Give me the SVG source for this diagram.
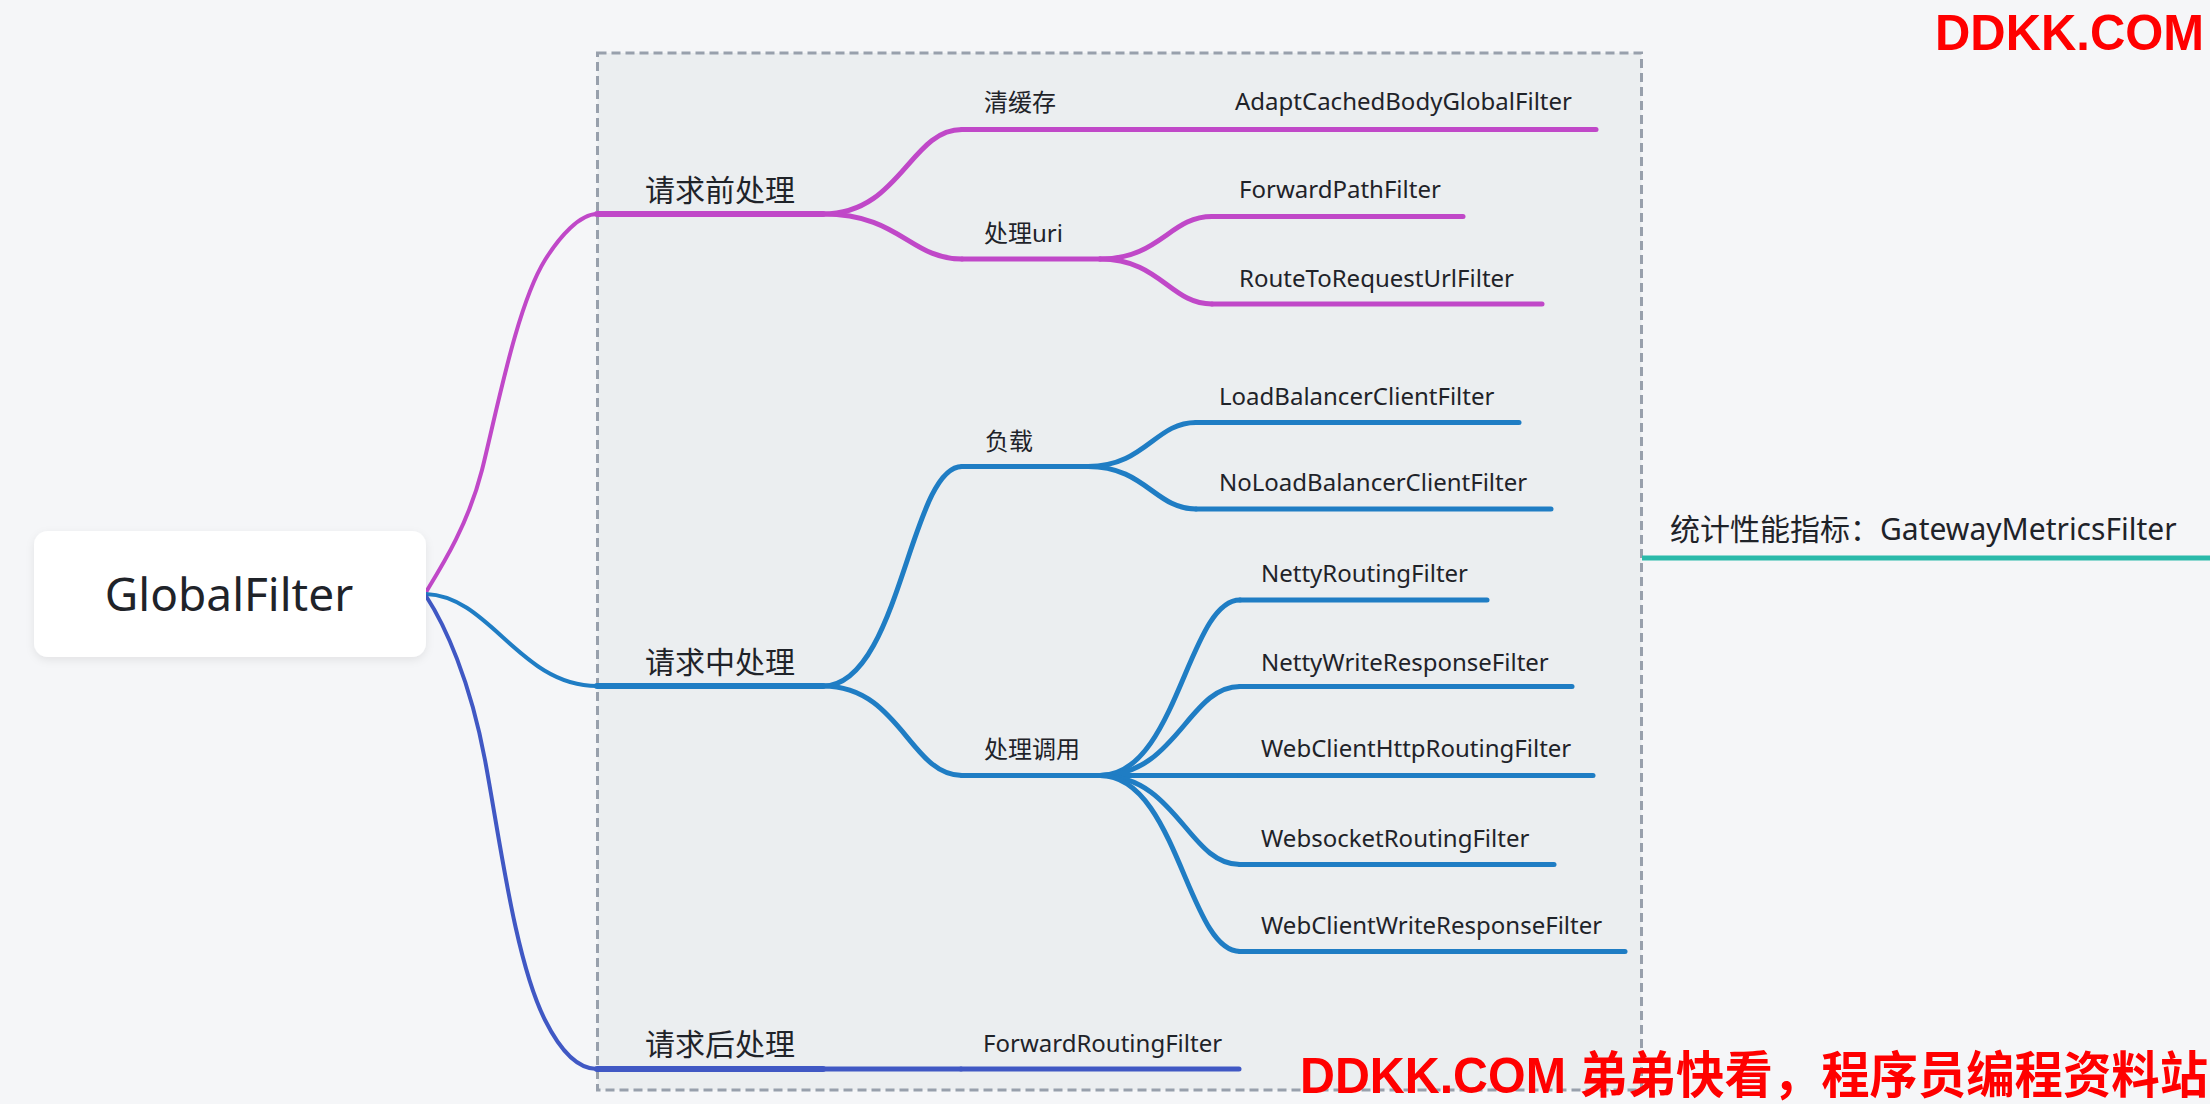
<svg xmlns="http://www.w3.org/2000/svg" width="2210" height="1104" viewBox="0 0 2210 1104">
<style>
.t{font-family:'Noto Sans','Noto Sans CJK SC',sans-serif;fill:#1f2329}
.l1{font-size:30px}
.l2{font-size:24px}
.l3{font-size:24px}
.c{fill:none;stroke-linecap:round}
.p{stroke:#c048c8}
.b{stroke:#1f7dc4}
.i{stroke:#4058c4}
.g{stroke:#2bbaaa}
.w0{stroke-width:4}
.w1{stroke-width:6}
.w2{stroke-width:5}
.wm{font-family:'Liberation Sans','Noto Sans CJK SC',sans-serif;font-weight:bold;fill:#ff0000}
</style>
<defs>
<filter id="sh" x="-10%" y="-20%" width="120%" height="150%">
<feDropShadow dx="0" dy="3" stdDeviation="4" flood-color="#000" flood-opacity="0.08"/>
</filter>
</defs>
<rect x="0" y="0" width="2210" height="1104" fill="#f5f6f8"/>
<g id="boundary">
<rect x="597.5" y="53" width="1044" height="1037" fill="#ebeef0" stroke="#98a0ac" stroke-width="3" stroke-dasharray="9 5"/>
</g>
<g id="connectors">
<path class="c p w0" d="M426,592 C442,566 468,525 482,470 C497,410 517,305 545,260 C560,236 580,214 597,214"/>
<path class="c b w0" d="M426,594 C490,596 520,686 597,686"/>
<path class="c i w0" d="M426,596 C445,625 470,680 485,760 C500,840 515,960 545,1020 C562.5,1055 580,1069 597,1069"/>
<path class="c p w2" d="M823,214 C900,214 910,129.5 962,129.5"/>
<path class="c p w2" d="M823,214 C900,214 910,259 962,259"/>
<path class="c p w2" d="M1100,129.5 H1213"/>
<path class="c p w2" d="M1100,259 C1160,259 1170,216.5 1212,216.5"/>
<path class="c p w2" d="M1100,259 C1160,259 1170,304 1212,304"/>
<path class="c b w2" d="M823,686 C900,686 910,466.5 962,466.5"/>
<path class="c b w2" d="M823,686 C900,686 910,775.5 962,775.5"/>
<path class="c b w2" d="M1088,466.5 C1145,466.5 1155,422.5 1196,422.5"/>
<path class="c b w2" d="M1088,466.5 C1145,466.5 1155,509 1196,509"/>
<path class="c b w2" d="M1100,775.5 C1177,775.5 1188,600 1240,600"/>
<path class="c b w2" d="M1100,775.5 C1177,775.5 1188,686.5 1240,686.5"/>
<path class="c b w2" d="M1100,775.5 H1240"/>
<path class="c b w2" d="M1100,775.5 C1177,775.5 1188,864.5 1240,864.5"/>
<path class="c b w2" d="M1100,775.5 C1177,775.5 1188,951.5 1240,951.5"/>
<path class="c i w2" d="M823,1069 H961"/>
</g>
<g id="root">
<rect x="34" y="531" width="392" height="126" rx="14" fill="#ffffff" filter="url(#sh)"/>
<text class="t" x="229" y="611" font-size="46" text-anchor="middle" fill="#262b33">GlobalFilter</text>
</g>
<g id="n-pre">
<path class="c p w1" d="M597,214 H823"/>
<text class="t l1" x="645" y="201">请求前处理</text>
</g>
<g id="n-clearcache">
<path class="c p w2" d="M962,129.5 H1100"/>
<text class="t l2" x="984" y="111">清缓存</text>
</g>
<g id="n-adaptcached">
<path class="c p w2" d="M1213,129.5 H1596"/>
<text class="t l3" x="1235" y="110">AdaptCachedBodyGlobalFilter</text>
</g>
<g id="n-uri">
<path class="c p w2" d="M962,259 H1100"/>
<text class="t l2" x="984" y="242">处理uri</text>
</g>
<g id="n-forwardpath">
<path class="c p w2" d="M1212,216.5 H1463"/>
<text class="t l3" x="1239" y="198">ForwardPathFilter</text>
</g>
<g id="n-routetorequest">
<path class="c p w2" d="M1212,304 H1542"/>
<text class="t l3" x="1239" y="287">RouteToRequestUrlFilter</text>
</g>
<g id="n-mid">
<path class="c b w1" d="M597,686 H823"/>
<text class="t l1" x="645" y="673">请求中处理</text>
</g>
<g id="n-load">
<path class="c b w2" d="M962,466.5 H1088"/>
<text class="t l2" x="985" y="450">负载</text>
</g>
<g id="n-lbclient">
<path class="c b w2" d="M1196,422.5 H1519"/>
<text class="t l3" x="1219" y="405">LoadBalancerClientFilter</text>
</g>
<g id="n-nolbclient">
<path class="c b w2" d="M1196,509 H1551"/>
<text class="t l3" x="1219" y="491">NoLoadBalancerClientFilter</text>
</g>
<g id="n-invoke">
<path class="c b w2" d="M962,775.5 H1100"/>
<text class="t l2" x="984" y="758">处理调用</text>
</g>
<g id="n-nettyrouting">
<path class="c b w2" d="M1240,600 H1487"/>
<text class="t l3" x="1261" y="582">NettyRoutingFilter</text>
</g>
<g id="n-nettywrite">
<path class="c b w2" d="M1240,686.5 H1572"/>
<text class="t l3" x="1261" y="671">NettyWriteResponseFilter</text>
</g>
<g id="n-webclienthttp">
<path class="c b w2" d="M1240,775.5 H1593"/>
<text class="t l3" x="1261" y="757">WebClientHttpRoutingFilter</text>
</g>
<g id="n-websocket">
<path class="c b w2" d="M1240,864.5 H1554"/>
<text class="t l3" x="1261" y="847">WebsocketRoutingFilter</text>
</g>
<g id="n-webclientwrite">
<path class="c b w2" d="M1240,951.5 H1625"/>
<text class="t l3" x="1261" y="934">WebClientWriteResponseFilter</text>
</g>
<g id="n-post">
<path class="c i w1" d="M597,1069 H823"/>
<text class="t l1" x="645" y="1055">请求后处理</text>
</g>
<g id="n-forwardrouting">
<path class="c i w2" d="M961,1069 H1239"/>
<text class="t l3" x="983" y="1052">ForwardRoutingFilter</text>
</g>
<g id="n-metrics">
<path class="g w2" fill="none" d="M1642,558 H2210"/>
<text class="t" x="1670" y="540" font-size="30">统计性能指标：GatewayMetricsFilter</text>
</g>
<g id="watermarks">
<text class="wm" x="1935" y="50" font-size="50" textLength="269" lengthAdjust="spacingAndGlyphs">DDKK.COM</text>
<text class="wm" x="1300" y="1093" font-size="50" textLength="908" lengthAdjust="spacingAndGlyphs">DDKK.COM 弟弟快看，程序员编程资料站</text>
</g>
</svg>
